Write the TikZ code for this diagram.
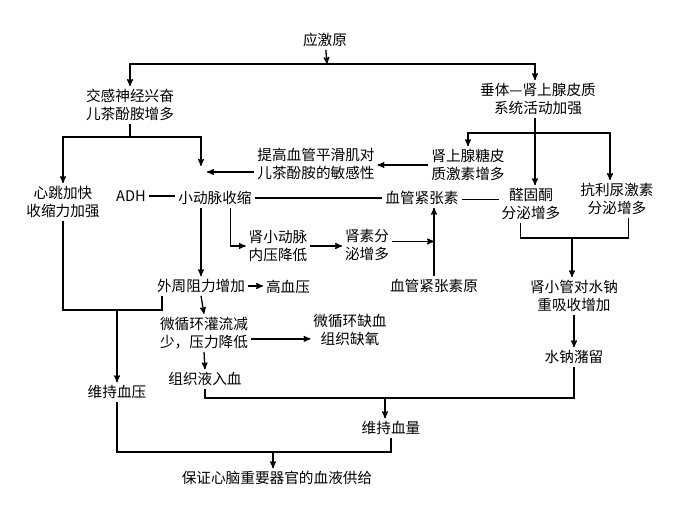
\documentclass[tikz,border=0pt]{standalone}
\usepackage{fontspec}
\usepackage{tikz}
\usetikzlibrary{arrows}
\newfontfamily\cjk{Noto Sans CJK SC}
\tikzset{>=stealth'}
\tikzset{txt/.style={font=\cjk\fontsize{12.5}{15.5}\selectfont, align=center, inner sep=2pt}}

\begin{document}
\begin{tikzpicture}[x=0.03cm, y=-0.03cm, line width=1.1pt]
	\useasboundingbox (0,0) rectangle (679,508);
	% nodes
	\node[txt] (ys) at (325,40) {应激原};
	\node[txt] (jg) at (130,105) {交感神经兴奋\\儿茶酚胺增多};
	\node[txt] (ct) at (538,99) {垂体—肾上腺皮质\\系统活动加强};
	\node[txt] (xt) at (63,202) {心跳加快\\收缩力加强};
	\node[txt] (adh) at (131,196) {ADH};
	\node[txt] (xdm) at (215,198) {小动脉收缩};
	\node[txt] (tg) at (316,164) {提高血管平滑肌对\\儿茶酚胺的敏感性};
	\node[txt] (tp) at (468,165) {肾上腺糖皮\\质激素增多};
	\node[txt] (xgz) at (422,198) {血管紧张素};
	\node[txt] (qgt) at (531,204) {醛固酮\\分泌增多};
	\node[txt] (kln) at (617,199) {抗利尿激素\\分泌增多};
	\node[txt] (sxdm) at (278,246) {肾小动脉\\内压降低};
	\node[txt] (ss) at (367,245) {肾素分\\泌增多};
	\node[txt] (xgy) at (434,286) {血管紧张素原};
	\node[txt] (sxg) at (574,296) {肾小管对水钠\\重吸收增加};
	\node[txt] (snz) at (574,357) {水钠潴留};
	\node[txt] (wz) at (201,286) {外周阻力增加};
	\node[txt] (gxy) at (288,287) {高血压};
	\node[txt] (wxh) at (204,333) {微循环灌流减\\少，压力降低};
	\node[txt] (qx) at (350,330) {微循环缺血\\组织缺氧};
	\node[txt] (zzy) at (205,379) {组织液入血};
	\node[txt] (wxy) at (117,392) {维持血压};
	\node[txt] (wxl) at (391,428) {维持血量};
	\node[txt] (bz) at (277,478) {保证心脑重要器官的血液供给};
	% junctions
	\coordinate (j1) at (327,64);
	\coordinate (j2) at (130,137);
	\coordinate (j3) at (535,133);
	\coordinate (j4) at (162,310);
	\coordinate (j5) at (273,452);
	\coordinate (j6) at (385,398);
	\coordinate (j7) at (572,238);
	\coordinate (xin) at (201,166);
	\coordinate (tga) at (207,172);
	% connectors
	\draw[->] (ys) -- (j1);
	\draw[->] (j1) -| (jg.north);
	\draw[->] (j1) -| (j3 |- ct.north);
	\draw (jg.south) -- (j2);
	\draw[->] (j2) -| (xt.north);
	\draw[->] (j2) -| (xin);
	\draw[->] (tg.west |- tga) -- (tga);
	\draw[->] (tp.west) -- (tp.west -| tg.east);
	\draw (j3 |- ct.south) -- (j3);
	\draw[->] (j3) -| (tp.north);
	\draw[->] (j3) -| ([xshift=-6]kln.north);
	\draw[->] (j3) -- (j3 |- qgt.north);
	\draw (adh.east) -- (adh.east -| xdm.west);
	\draw (xdm.east) -- (xdm.east -| xgz.west);
	\draw ([yshift=-1]xgz.east) -- ([yshift=-1]xgz.east -| qgt.west);
	\draw[->] (xdm.south -| wz.north) -- (wz.north);
	\draw[->] ([xshift=13]xdm.south) |- (sxdm.west);
	\draw[->] (sxdm.east) -- (sxdm.east -| ss.west);
	\draw[->] ([yshift=3]ss.east) -- ([yshift=3]ss.east -| xgy.north);
	\draw[->] (xgy.north) -- (xgy.north |- xgz.south);
	\draw[->] (wz.east) -- (wz.east -| gxy.west);
	\draw[->] (wz.south) -- (wxh.north);
	\draw[->] ([yshift=-5]wxh.east) -- ([yshift=-5]wxh.east -| qx.west);
	\draw[->] (wxh.south) -- (zzy.north);
	\draw (xt.south) |- (j4) -- (j4 |- wz.south);
	\draw[->] (wxy.north |- j4) -- (wxy.north);
	\draw (wxy.south) |- (j5) -| (wxl.south);
	\draw[->] (j5) -- (j5 |- bz.north);
	\draw (zzy.south) |- (j6) -| (snz.south);
	\draw[->] (j6) -- (j6 |- wxl.north);
	\draw ([xshift=-9]qgt.south) |- (j7) -| ([xshift=10]kln.south);
	\draw[->] (j7) -- (j7 |- sxg.north);
	\draw[->] (sxg.south) -- (snz.north);
\end{tikzpicture}
\end{document}
